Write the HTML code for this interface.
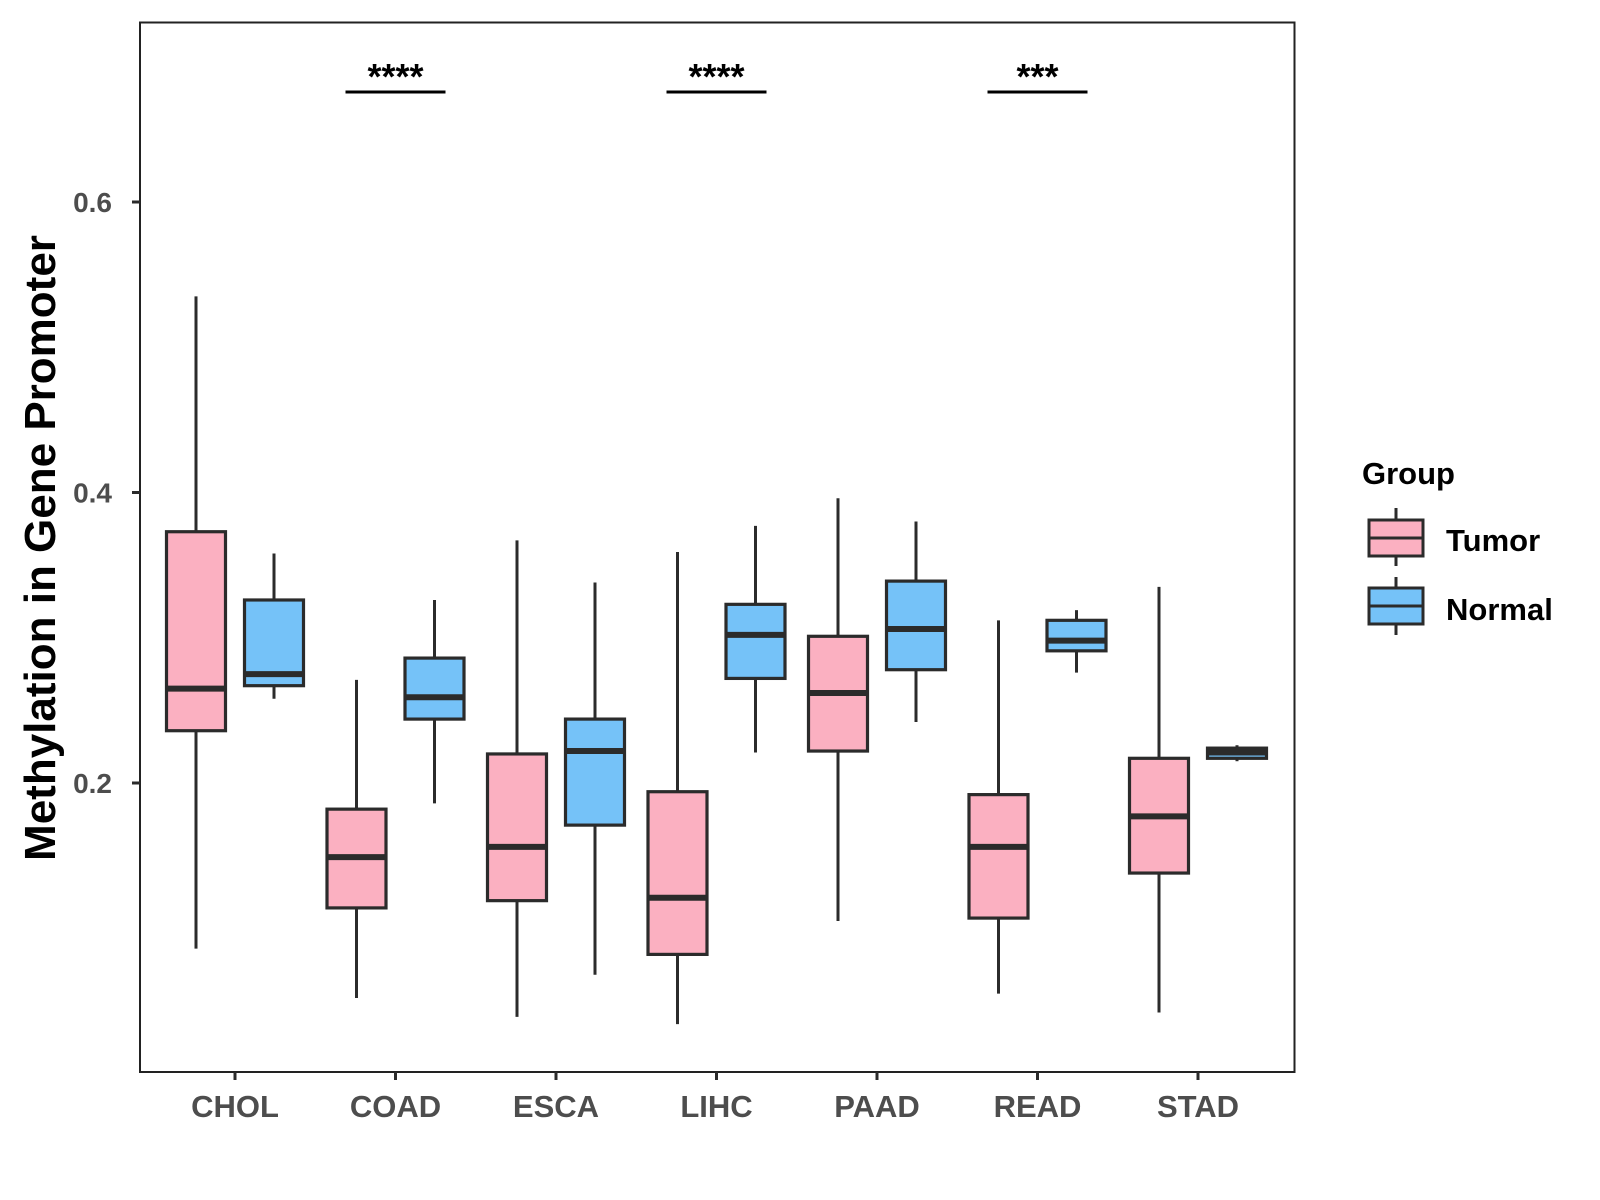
<!DOCTYPE html>
<html><head><meta charset="utf-8">
<style>
html,body{margin:0;padding:0;background:#fff;}
svg{display:block;font-family:"Liberation Sans",Arial,sans-serif;font-weight:bold;}
</style></head>
<body>
<svg id="chart" width="1600" height="1200" viewBox="0 0 1600 1200">
  <rect x="140" y="22.5" width="1154.5" height="1049.5" fill="#fff" stroke="#222" stroke-width="2"/>
  <g id="marks"></g>
  <g id="axes"></g>
  <text x="55" y="548" transform="rotate(-90 55 548)" text-anchor="middle" font-size="44" fill="#000">Methylation in Gene Promoter</text>
  <g>
    <text x="1362" y="484" font-size="31" fill="#000">Group</text>
    <g>
      <line x1="1396" y1="508" x2="1396" y2="566" stroke="#2b2b2b" stroke-width="3"/>
      <rect x="1369" y="520" width="54" height="36" fill="#FBB0C1" stroke="#2b2b2b" stroke-width="3"/>
      <line x1="1369" y1="538" x2="1423" y2="538" stroke="#2b2b2b" stroke-width="3"/>
      <text x="1446" y="551" font-size="31" fill="#000">Tumor</text>
    </g>
    <g>
      <line x1="1396" y1="577" x2="1396" y2="635" stroke="#2b2b2b" stroke-width="3"/>
      <rect x="1369" y="588" width="54" height="36" fill="#75C2F8" stroke="#2b2b2b" stroke-width="3"/>
      <line x1="1369" y1="606" x2="1423" y2="606" stroke="#2b2b2b" stroke-width="3"/>
      <text x="1446" y="620" font-size="31" fill="#000">Normal</text>
    </g>
  </g>
</svg>
<script>
const categories = ["CHOL","COAD","ESCA","LIHC","PAAD","READ","STAD"];
// [low, q1, median, q3, high]
const tumorStats = [
  [0.086,0.236,0.265,0.373,0.535],
  [0.052,0.114,0.149,0.182,0.271],
  [0.039,0.119,0.156,0.220,0.367],
  [0.034,0.082,0.121,0.194,0.359],
  [0.105,0.222,0.262,0.301,0.396],
  [0.055,0.107,0.156,0.192,0.312],
  [0.042,0.138,0.177,0.217,0.335]
];
const normalStats = [
  [0.258,0.267,0.275,0.326,0.358],
  [0.186,0.244,0.259,0.286,0.326],
  [0.068,0.171,0.222,0.244,0.338],
  [0.221,0.272,0.302,0.323,0.377],
  [0.242,0.278,0.306,0.339,0.380],
  [0.276,0.291,0.298,0.312,0.319],
  [0.215,0.217,0.221,0.224,0.226]
];
const yTicks = [0.2,0.4,0.6];
const yTickLabels = ["0.2","0.4","0.6"];
const sigCategories = ["COAD","LIHC","READ"];
const sigLabels = ["****","****","***"];

const NS="http://www.w3.org/2000/svg";
function xScale(i){return 235+160.5*i;}
function yScale(v){return 783-(v-0.2)*1452.5;}
function mk(tag,attrs,parent){const e=document.createElementNS(NS,tag);for(const k in attrs)e.setAttribute(k,attrs[k]);parent.appendChild(e);return e;}
const marks=document.getElementById('marks');
const axes=document.getElementById('axes');
const BW=59, OFF=39, C="#2b2b2b";
function drawBox(stats,cx,fill,name){
  const g=mk('g',{},marks);
  
  
  const [lo,q1,md,q3,hi]=stats;
  mk('line',{x1:cx,x2:cx,y1:yScale(hi),y2:yScale(lo),stroke:C,'stroke-width':3},g);
  mk('rect',{x:cx-BW/2,y:yScale(q3),width:BW,height:Math.max(yScale(q1)-yScale(q3),1),fill:fill,stroke:C,'stroke-width':3.2},g);
  mk('line',{x1:cx-BW/2,x2:cx+BW/2,y1:yScale(md),y2:yScale(md),stroke:C,'stroke-width':6},g);
}
categories.forEach((c,i)=>{
  drawBox(tumorStats[i],xScale(i)-OFF,"#FBB0C1","box-tumor-"+c.toLowerCase());
  drawBox(normalStats[i],xScale(i)+OFF,"#75C2F8","box-normal-"+c.toLowerCase());
  const t=mk('line',{x1:xScale(i),x2:xScale(i),y1:1072,y2:1080,stroke:C,'stroke-width':3},axes);
  
  
  const l=mk('text',{x:xScale(i),y:1117,'text-anchor':'middle','font-size':31,fill:'#4d4d4d'},axes);
  l.textContent=c;
  
  
});
yTicks.forEach((v,i)=>{
  const t=mk('line',{x1:132,x2:140,y1:yScale(v),y2:yScale(v),stroke:C,'stroke-width':3},axes);
  
  
  const l=mk('text',{x:112,y:yScale(v)+10,'text-anchor':'end','font-size':28,fill:'#4d4d4d'},axes);
  l.textContent=yTickLabels[i];
  
  
});
sigCategories.forEach((c,k)=>{
  const i=categories.indexOf(c);
  const g=mk('g',{},axes);
  
  
  mk('line',{x1:xScale(i)-50,x2:xScale(i)+50,y1:92,y2:92,stroke:'#000','stroke-width':3},g);
  const s=mk('text',{x:xScale(i),y:89,'text-anchor':'middle','font-size':36,fill:'#000'},g);
  s.textContent=sigLabels[k];
});
</script>
</body></html>
